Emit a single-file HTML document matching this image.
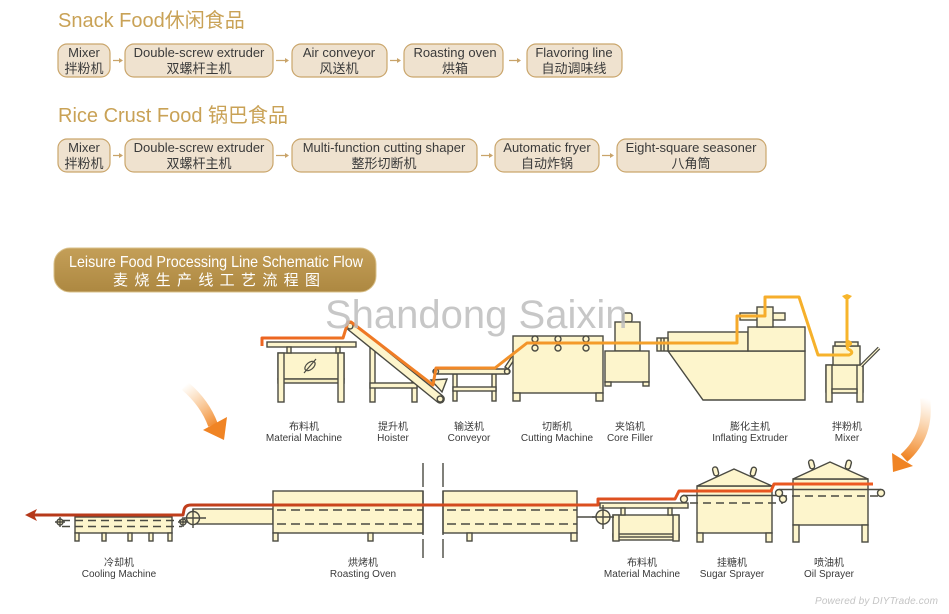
<!DOCTYPE html>
<html><head><meta charset="utf-8">
<style>
html,body{margin:0;padding:0;background:#fff;}
svg{display:block;}
text{font-family:"Liberation Sans","Noto Sans CJK SC",sans-serif;}
</style></head><body>
<svg width="949" height="614" viewBox="0 0 949 614" xmlns="http://www.w3.org/2000/svg">
<defs>
 <linearGradient id="tl" gradientUnits="userSpaceOnUse" x1="262" y1="0" x2="850" y2="0">
  <stop offset="0" stop-color="#ec6420"/><stop offset="0.45" stop-color="#f3952a"/><stop offset="1" stop-color="#f7b52b"/>
 </linearGradient>
 <linearGradient id="bl" gradientUnits="userSpaceOnUse" x1="25" y1="0" x2="873" y2="0">
  <stop offset="0" stop-color="#b5381a"/><stop offset="1" stop-color="#ef5b22"/>
 </linearGradient>
 <linearGradient id="ban" x1="0" y1="0" x2="0" y2="1">
  <stop offset="0" stop-color="#c49f58"/><stop offset="1" stop-color="#ad8841"/>
 </linearGradient>
 <linearGradient id="ga1" gradientUnits="userSpaceOnUse" x1="185" y1="385" x2="215" y2="428">
  <stop offset="0" stop-color="#f7a850" stop-opacity="0"/><stop offset="1" stop-color="#f08424" stop-opacity="1"/>
 </linearGradient>
 <linearGradient id="ga2" gradientUnits="userSpaceOnUse" x1="926" y1="398" x2="905" y2="458">
  <stop offset="0" stop-color="#f7a850" stop-opacity="0"/><stop offset="1" stop-color="#f08424" stop-opacity="1"/>
 </linearGradient>
</defs>

<!-- ===== Titles ===== -->
<text x="58" y="27" font-size="20" fill="#c9a256">Snack Food休闲食品</text>
<text x="58" y="122" font-size="20" fill="#c9a256">Rice Crust Food 锅巴食品</text>

<!-- ===== Row 1 boxes ===== -->
<g fill="#efe2cf" stroke="#caa66c" stroke-width="1.2">
 <rect x="58" y="44" width="52" height="33" rx="9"/>
 <rect x="125" y="44" width="148" height="33" rx="9"/>
 <rect x="292" y="44" width="95" height="33" rx="9"/>
 <rect x="404" y="44" width="99" height="33" rx="9"/>
 <rect x="527" y="44" width="95" height="33" rx="9"/>
 <rect x="58" y="139" width="52" height="33" rx="9"/>
 <rect x="125" y="139" width="148" height="33" rx="9"/>
 <rect x="292" y="139" width="185" height="33" rx="9"/>
 <rect x="495" y="139" width="104" height="33" rx="9"/>
 <rect x="617" y="139" width="149" height="33" rx="9"/>
</g>
<g stroke="#c9a46a" stroke-width="1.2" fill="none">
 <path d="M113 60.5H122M276 60.5H288M390 60.5H400M509 60.5H520"/>
 <path d="M113 155.5H122M276 155.5H288M481 155.5H492M602 155.5H613"/>
</g>
<g fill="#c9a46a">
 <path d="M123 60.5l-4 -2.5v5z M289 60.5l-4 -2.5v5z M401 60.5l-4 -2.5v5z M521 60.5l-4 -2.5v5z"/>
 <path d="M123 155.5l-4 -2.5v5z M289 155.5l-4 -2.5v5z M493 155.5l-4 -2.5v5z M614 155.5l-4 -2.5v5z"/>
</g>
<g font-size="13" fill="#3a3a3a" text-anchor="middle">
 <text x="84" y="57">Mixer</text><text x="84" y="73">拌粉机</text>
 <text x="199" y="57">Double-screw extruder</text><text x="199" y="73">双螺杆主机</text>
 <text x="339" y="57">Air conveyor</text><text x="339" y="73">风送机</text>
 <text x="455" y="57">Roasting oven</text><text x="455" y="73">烘箱</text>
 <text x="574" y="57">Flavoring line</text><text x="574" y="73">自动调味线</text>

 <text x="84" y="152">Mixer</text><text x="84" y="168">拌粉机</text>
 <text x="199" y="152">Double-screw extruder</text><text x="199" y="168">双螺杆主机</text>
 <text x="384" y="152">Multi-function cutting shaper</text><text x="384" y="168">整形切断机</text>
 <text x="547" y="152">Automatic fryer</text><text x="547" y="168">自动炸锅</text>
 <text x="691" y="152">Eight-square seasoner</text><text x="691" y="168">八角筒</text>
</g>

<!-- ===== Banner ===== -->
<rect x="54" y="248" width="322" height="44" rx="16" fill="url(#ban)" stroke="#d9c08a" stroke-width="1"/>
<text x="69" y="267" font-size="16" fill="#fff" textLength="294" lengthAdjust="spacingAndGlyphs">Leisure Food Processing Line Schematic Flow</text>
<text x="113" y="285" font-size="15" fill="#fff" textLength="207" lengthAdjust="spacing">麦烧生产线工艺流程图</text>

<!-- ===== Curved arrows ===== -->
<path d="M185 386 Q205 403 213 425" stroke="url(#ga1)" stroke-width="10" fill="none"/>
<polygon points="203,430 227,417 224,440" fill="#f08424"/>
<path d="M925 398 Q930 435 904 458" stroke="url(#ga2)" stroke-width="10" fill="none"/>
<polygon points="892,453 913,466 893,472" fill="#f08424"/>

<!-- ===== Top line machines ===== -->
<g fill="#fdf5cc" stroke="#4a4a42" stroke-width="1.4">
 <!-- Material machine -->
 <rect x="278" y="353" width="66" height="26"/>
 <rect x="278" y="379" width="66" height="4" fill="#f5edc0"/>
 <rect x="267" y="342" width="89" height="5"/>
 <rect x="287" y="347" width="4" height="6"/>
 <rect x="336" y="347" width="4" height="6"/>
 <rect x="278" y="353" width="6" height="49"/>
 <rect x="338" y="353" width="6" height="49"/>
 <!-- Hoister -->
 <rect x="370" y="348" width="5" height="54"/>
 <rect x="412" y="372" width="5" height="30"/>
 <rect x="370" y="383" width="47" height="5"/>
 <polygon points="431,380 447,379 442,392"/>
 <g transform="translate(350,326) rotate(39)">
  <rect x="-4" y="-4" width="124" height="8" rx="4"/>
  <circle cx="0" cy="0" r="3"/>
  <circle cx="116" cy="0" r="3"/>
 </g>
 <!-- Conveyor -->
 <rect x="453" y="374" width="4" height="27"/>
 <rect x="492" y="374" width="4" height="27"/>
 <rect x="453" y="387" width="43" height="4"/>
 <rect x="433" y="369" width="77" height="5" rx="2.5"/>
 <circle cx="436" cy="371.5" r="2.5"/>
 <circle cx="507" cy="371.5" r="2.5"/>
 <polygon points="505,367 513,355 516,357 508,369"/>
 <!-- Cutting machine -->
 <rect x="513" y="336" width="90" height="57"/>
 <rect x="513" y="393" width="7" height="8"/>
 <rect x="596" y="393" width="7" height="8"/>
 <circle cx="535" cy="339" r="3"/><circle cx="535" cy="348" r="3"/>
 <circle cx="558" cy="339" r="3"/><circle cx="558" cy="348" r="3"/>
 <circle cx="586" cy="339" r="3"/><circle cx="586" cy="348" r="3"/>
 <!-- Core filler -->
 <rect x="623" y="313" width="9" height="9" rx="2"/>
 <rect x="615" y="322" width="25" height="29"/>
 <rect x="605" y="351" width="44" height="31"/>
 <rect x="605" y="382" width="6" height="4"/>
 <rect x="643" y="382" width="6" height="4"/>
 <!-- Extruder -->
 <polygon points="668,351 805,351 805,400 703,400"/>
 <rect x="668" y="332" width="80" height="19"/>
 <rect x="748" y="327" width="57" height="24"/>
 <rect x="657" y="338" width="11" height="13"/>
 <path d="M661 338V351M664 338V351" fill="none"/>
 <rect x="740" y="313" width="45" height="7"/>
 <rect x="757" y="307" width="16" height="20"/>
 <!-- Mixer -->
 <rect x="826" y="365" width="37" height="27"/>
 <rect x="826" y="365" width="6" height="37"/>
 <rect x="857" y="365" width="6" height="37"/>
 <rect x="832" y="389" width="25" height="4"/>
 <rect x="833" y="346" width="27" height="19"/>
 <rect x="835" y="342" width="23" height="4"/>
</g>
<line x1="861" y1="366" x2="879" y2="348" stroke="#4a4a42" stroke-width="3.5"/>
<line x1="861" y1="366" x2="879" y2="348" stroke="#fdf5cc" stroke-width="1.2"/>
<!-- motor icon -->
<g stroke="#4a4a42" stroke-width="1.2" fill="none">
 <ellipse cx="310" cy="366" rx="6" ry="3.5" transform="rotate(-40 310 366)"/>
 <line x1="304" y1="373" x2="316" y2="359"/>
 <ellipse cx="646" cy="527" rx="6" ry="3.5" transform="rotate(-40 646 527)"/>
 <line x1="640" y1="534" x2="652" y2="520"/>
</g>

<!-- top process line -->
<path d="M262 346 V338 H343 L348 322 L351 322 L433 385 L436 368 H495 L527 343 H737 V316 H765 V297 H799 L818 355 H849 q5,-2 1,-5 q-5,-2 -1,-5 q4,-2 -2,-4 M847 346 V300"
 fill="none" stroke="url(#tl)" stroke-width="3" stroke-linejoin="round"/>
<path d="M842 296 L847 301 L852 296 L847 294 Z" fill="#f7b52b"/>

<!-- ===== Bottom line machines ===== -->
<g fill="#fdf5cc" stroke="#4a4a42" stroke-width="1.4">
 <!-- cooling -->
 <rect x="75" y="517" width="97" height="16"/>
 <rect x="75" y="533" width="4" height="8"/>
 <rect x="102" y="533" width="4" height="8"/>
 <rect x="128" y="533" width="4" height="8"/>
 <rect x="149" y="533" width="4" height="8"/>
 <rect x="168" y="533" width="4" height="8"/>
 <!-- belt to oven -->
 <rect x="193" y="509" width="80" height="15"/>
 <!-- oven 1 -->
 <rect x="273" y="491" width="150" height="42"/>
 <rect x="273" y="533" width="5" height="8"/>
 <rect x="368" y="533" width="5" height="8"/>
 <!-- oven 2 -->
 <rect x="443" y="491" width="134" height="42"/>
 <rect x="467" y="533" width="5" height="8"/>
 <rect x="571" y="533" width="6" height="8"/>
 <!-- material machine 2 -->
 <rect x="613" y="515" width="66" height="25"/>
 <rect x="613" y="534" width="66" height="3" fill="#f5edc0"/>
 <rect x="600" y="503" width="88" height="5"/>
 <rect x="621" y="508" width="4" height="7"/>
 <rect x="668" y="508" width="4" height="7"/>
 <rect x="613" y="515" width="6" height="26"/>
 <rect x="673" y="515" width="6" height="26"/>
 <!-- sugar sprayer -->
 <rect x="697" y="486" width="75" height="47"/>
 <rect x="697" y="533" width="6" height="9"/>
 <rect x="766" y="533" width="6" height="9"/>
 <polygon points="697,486 734,469 772,486"/>
 <rect x="713" y="467" width="5" height="9" rx="2.5" transform="rotate(-15 715 471)"/>
 <rect x="751" y="467" width="5" height="9" rx="2.5" transform="rotate(15 753 471)"/>
 <!-- oil sprayer -->
 <rect x="793" y="479" width="75" height="46"/>
 <rect x="793" y="525" width="6" height="17"/>
 <rect x="862" y="525" width="6" height="17"/>
 <polygon points="793,479 830,462 868,479"/>
 <rect x="809" y="460" width="5" height="9" rx="2.5" transform="rotate(-15 811 464)"/>
 <rect x="846" y="460" width="5" height="9" rx="2.5" transform="rotate(15 848 464)"/>
</g>
<g stroke="#4a4a42" stroke-width="1.4" fill="none">
 <!-- dashes -->
 <path d="M62 520.5H182M62 526.5H182" stroke-dasharray="8 5"/>
 <path d="M277 510H423M277 524H423M447 510H577M447 524H577" stroke-dasharray="9 5"/>
 <path d="M577 517H596"/>
 <path d="M690 503H783" stroke-dasharray="8 5"/>
 <path d="M779 496H881" stroke-dasharray="8 5"/>
 <path d="M683 495.5H783M779 489.5H881"/>
 <!-- break lines -->
 <path d="M423 463V487M423 491V535M423 539V558M443 463V487M443 491V535M443 539V558"/>
 <!-- rollers -->
 <circle cx="60" cy="522" r="3" fill="#fdf5cc"/>
 <path d="M55 522H65M60 517V527"/>
 <circle cx="183" cy="522" r="3" fill="#fdf5cc"/>
 <path d="M178 522H188M183 517V527"/>
 <circle cx="193" cy="518" r="6.5" fill="#fdf5cc"/>
 <path d="M184 518H206M193 509V528"/>
 <circle cx="603" cy="517" r="7" fill="#fdf5cc"/>
 <path d="M592 517H614M603 505V529"/>
 <circle cx="684" cy="499" r="3.5" fill="#fdf5cc"/>
 <circle cx="783" cy="499" r="3.5" fill="#fdf5cc"/>
 <circle cx="779" cy="493" r="3.5" fill="#fdf5cc"/>
 <circle cx="881" cy="493" r="3.5" fill="#fdf5cc"/>
</g>

<!-- bottom process line -->
<path d="M873 484 H774 L771 491 H679 L675 499 H598 V505 H191 Q185 505 184 510 L183 515 H34"
 fill="none" stroke="url(#bl)" stroke-width="3" stroke-linejoin="round"/>
<polygon points="25,515 37,509 34,515 37,521" fill="#b5381a"/>

<!-- ===== Labels ===== -->
<g font-size="10" fill="#3a3a3a" text-anchor="middle">
 <text x="304" y="430">布料机</text><text x="304" y="441">Material Machine</text>
 <text x="393" y="430">提升机</text><text x="393" y="441">Hoister</text>
 <text x="469" y="430">输送机</text><text x="469" y="441">Conveyor</text>
 <text x="557" y="430">切断机</text><text x="557" y="441">Cutting Machine</text>
 <text x="630" y="430">夹馅机</text><text x="630" y="441">Core Filler</text>
 <text x="750" y="430">膨化主机</text><text x="750" y="441">Inflating Extruder</text>
 <text x="847" y="430">拌粉机</text><text x="847" y="441">Mixer</text>

 <text x="119" y="566">冷却机</text><text x="119" y="577">Cooling Machine</text>
 <text x="363" y="566">烘烤机</text><text x="363" y="577">Roasting Oven</text>
 <text x="642" y="566">布料机</text><text x="642" y="577">Material Machine</text>
 <text x="732" y="566">挂糖机</text><text x="732" y="577">Sugar Sprayer</text>
 <text x="829" y="566">喷油机</text><text x="829" y="577">Oil Sprayer</text>
</g>

<!-- watermark -->
<text x="325" y="328" font-size="40" fill="#bdbdbd" fill-opacity="0.85">Shandong Saixin</text>
<text x="815" y="604" font-size="10" font-style="italic" fill="#c4c4c4" textLength="123" lengthAdjust="spacing">Powered by DIYTrade.com</text>
</svg>
</body></html>
